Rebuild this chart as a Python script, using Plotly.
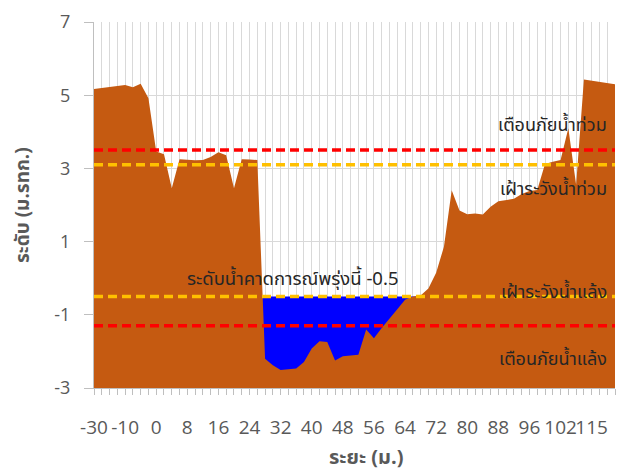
import plotly.graph_objects as go

# ---- data ----
tick_labels = ["-30", "-10", "0", "8", "16", "24", "32", "40", "48", "56",
               "64", "72", "80", "88", "96", "102", "115"]
label_every = 4
y_ticks = [-3, -1, 1, 3, 5, 7]
y_tick_labels = ["-3", "-1", "1", "3", "5", "7"]

ground = [5.17, 5.20, 5.23, 5.27, 5.28, 5.22, 5.31, 4.92, 3.46, 3.39,
          2.46, 3.25, 3.23, 3.22, 3.23, 3.31, 3.44, 3.36, 2.46, 3.25,
          3.24, 3.23, -2.20, -2.38, -2.51, -2.50, -2.47, -2.29, -1.92, -1.72,
          -1.74, -2.25, -2.13, -2.11, -2.09, -1.40, -1.64, -1.36, -1.12, -0.85,
          -0.59, -0.50, -0.47, -0.28, 0.15, 0.86, 2.40, 1.85, 1.75, 1.77,
          1.74, 1.95, 2.10, 2.14, 2.17, 2.30, 2.38, 2.41, 3.12, 3.18,
          3.23, 4.10, 2.55, 5.43, 5.40, 5.37, 5.34, 5.30]

water_forecast = -0.5
flood_warning = 3.5
flood_watch = 3.1
drought_watch = -0.5
drought_warning = -1.3
y_min, y_max = -3, 7

x = list(range(len(ground)))
ticktext = [tick_labels[i // label_every] if i % label_every == 0 else "" for i in x]

BROWN = "#C55A11"
GRAY = "#595959"
GRID = "#D9D9D9"
THAI = "Noto Sans Thai, Noto Sans, Leelawadee UI, Tahoma, sans-serif"

fig = go.Figure()
# water (behind ground)
fig.add_trace(go.Scatter(x=x, y=[y_min] * len(x), mode="lines",
                         line=dict(width=0), hoverinfo="skip", showlegend=False))
fig.add_trace(go.Scatter(x=x, y=[water_forecast] * len(x), mode="lines",
                         line=dict(width=0), fill="tonexty", fillcolor="#0000FF",
                         showlegend=False))
# ground
fig.add_trace(go.Scatter(x=x, y=[y_min] * len(x), mode="lines",
                         line=dict(width=0), hoverinfo="skip", showlegend=False))
fig.add_trace(go.Scatter(x=x, y=ground, mode="lines",
                         line=dict(width=0, color=BROWN), fill="tonexty",
                         fillcolor=BROWN, showlegend=False))

# threshold lines
for lvl, col in [(flood_warning, "#FF0000"), (flood_watch, "#FFC000"),
                 (drought_watch, "#FFC000"), (drought_warning, "#FF0000")]:
    fig.add_trace(go.Scatter(x=x, y=[lvl] * len(x), mode="lines",
                             line=dict(color=col, width=3.5, dash="9px,5px"),
                             showlegend=False))

ann_font = dict(family=THAI, size=18, color="#262626")
right_x = 66.2
for yv, txt in [(4.17, "เตือนภัยน้ำท่วม"), (2.41, "เฝ้าระวังน้ำท่วม"),
                (-0.38, "เฝ้าระวังน้ำแล้ง"), (-2.22, "เตือนภัยน้ำแล้ง")]:
    fig.add_annotation(x=right_x, y=yv, text=txt, showarrow=False,
                       xanchor="right", yanchor="middle", font=ann_font)
fig.add_annotation(x=25.5, y=-0.02, text=f"ระดับน้ำคาดการณ์พรุ่งนี้ {water_forecast}",
                   showarrow=False, xanchor="center", yanchor="middle",
                   font=dict(family=THAI, size=18.5, color="#262626"))

# axis titles
fig.add_annotation(xref="paper", yref="paper", x=(366 - 94) / 521, y=(388 - 458) / 366,
                   xanchor="center", yanchor="middle",
                   text="<b>ระยะ (ม.)</b>", showarrow=False,
                   font=dict(family=THAI, size=20, color=GRAY))
fig.add_annotation(xref="paper", yref="paper", x=(23 - 94) / 521, y=0.5,
                   xanchor="center", yanchor="middle",
                   text="<b>ระดับ (ม.รทก.)</b>", showarrow=False, textangle=-90,
                   font=dict(family=THAI, size=19, color=GRAY))

fig.update_layout(
    width=624, height=474,
    margin=dict(l=86, r=17, t=14, b=94),
    plot_bgcolor="white", paper_bgcolor="white",
    font=dict(family="Open Sans, sans-serif", color=GRAY),
    xaxis=dict(range=[0, len(x) - 1], tickmode="array", tickvals=x, ticktext=ticktext,
               showgrid=True, gridcolor=GRID, gridwidth=1,
               ticks="outside", ticklen=6, tickcolor="#BFBFBF",
               showline=True, linecolor="#BFBFBF", zeroline=False,
               ticklabelstandoff=16,
               tickfont=dict(size=19, color=GRAY), tickangle=0, automargin=False),
    yaxis=dict(range=[y_min, y_max], tickmode="array", tickvals=y_ticks,
               ticktext=y_tick_labels,
               showgrid=True, gridcolor=GRID, gridwidth=1,
               ticks="outside", ticklen=9, tickcolor="#BFBFBF",
               showline=True, linecolor="#BFBFBF", zeroline=False,
               ticklabelstandoff=10,
               tickfont=dict(size=18, color=GRAY), automargin=False),
)

fig.write_html("out.html")
